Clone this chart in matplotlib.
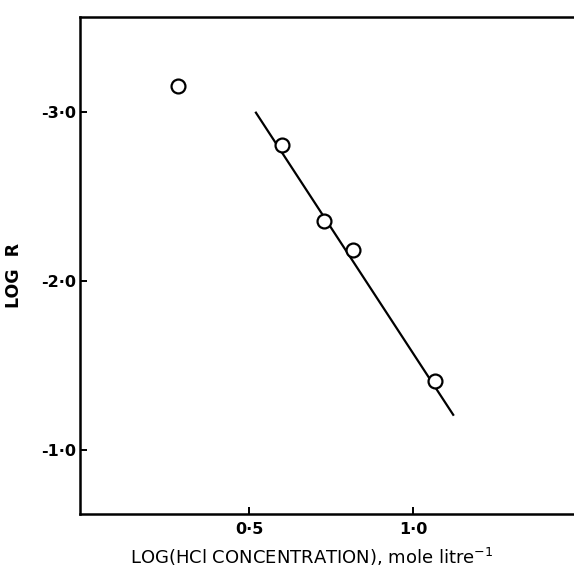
import matplotlib
matplotlib.use("Agg")
import matplotlib.pyplot as plt

# Data
log_hcl = [0.284, 0.601, 0.729, 0.817, 1.067]
log_r = [-3.154, -2.805, -2.355, -2.183, -1.408]
fit_x = [0.521, 1.122]
fit_y = [-2.994, -1.207]

xticks = [0.5, 1.0]
xtick_labels = ["0·5", "1·0"]
yticks = [-3.0, -2.0, -1.0]
ytick_labels = ["-3·0", "-2·0", "-1·0"]

fig = plt.figure(figsize=(5.74, 5.71), dpi=100)
ax = fig.add_axes([80/574, 57/571, 494/574, 497/571])

ax.plot(fit_x, fit_y, color="black", lw=1.6, zorder=2)
ax.plot(log_hcl, log_r, linestyle="none", marker="o", markersize=10,
        markerfacecolor="white", markeredgecolor="black", markeredgewidth=1.6, zorder=3)

ax.set_xlim(-0.015, 1.49)
ax.set_ylim(-0.62, -3.56)

ax.set_xticks(xticks)
ax.set_xticklabels(xtick_labels)
ax.set_yticks(yticks)
ax.set_yticklabels(ytick_labels)

for lab in ax.get_xticklabels() + ax.get_yticklabels():
    lab.set_fontweight("bold")
    lab.set_fontsize(11.5)

ax.tick_params(axis="both", direction="in", length=5, width=1.4, pad=3, color="black")
ax.tick_params(axis="x", pad=6)

for side in ["left", "bottom", "top"]:
    ax.spines[side].set_linewidth(1.8)
ax.spines["right"].set_visible(False)

ax.set_xlabel("LOG(HCl CONCENTRATION), mole litre$^{-1}$", fontsize=13,
              fontweight="medium", labelpad=6)
ax.xaxis.set_label_coords(0.468, -0.065)
ax.set_ylabel("LOG  R", fontsize=12.5, fontweight="bold", labelpad=12)
ax.yaxis.set_label_coords(-0.115, 0.48)

fig.savefig("out.png", dpi=100)
